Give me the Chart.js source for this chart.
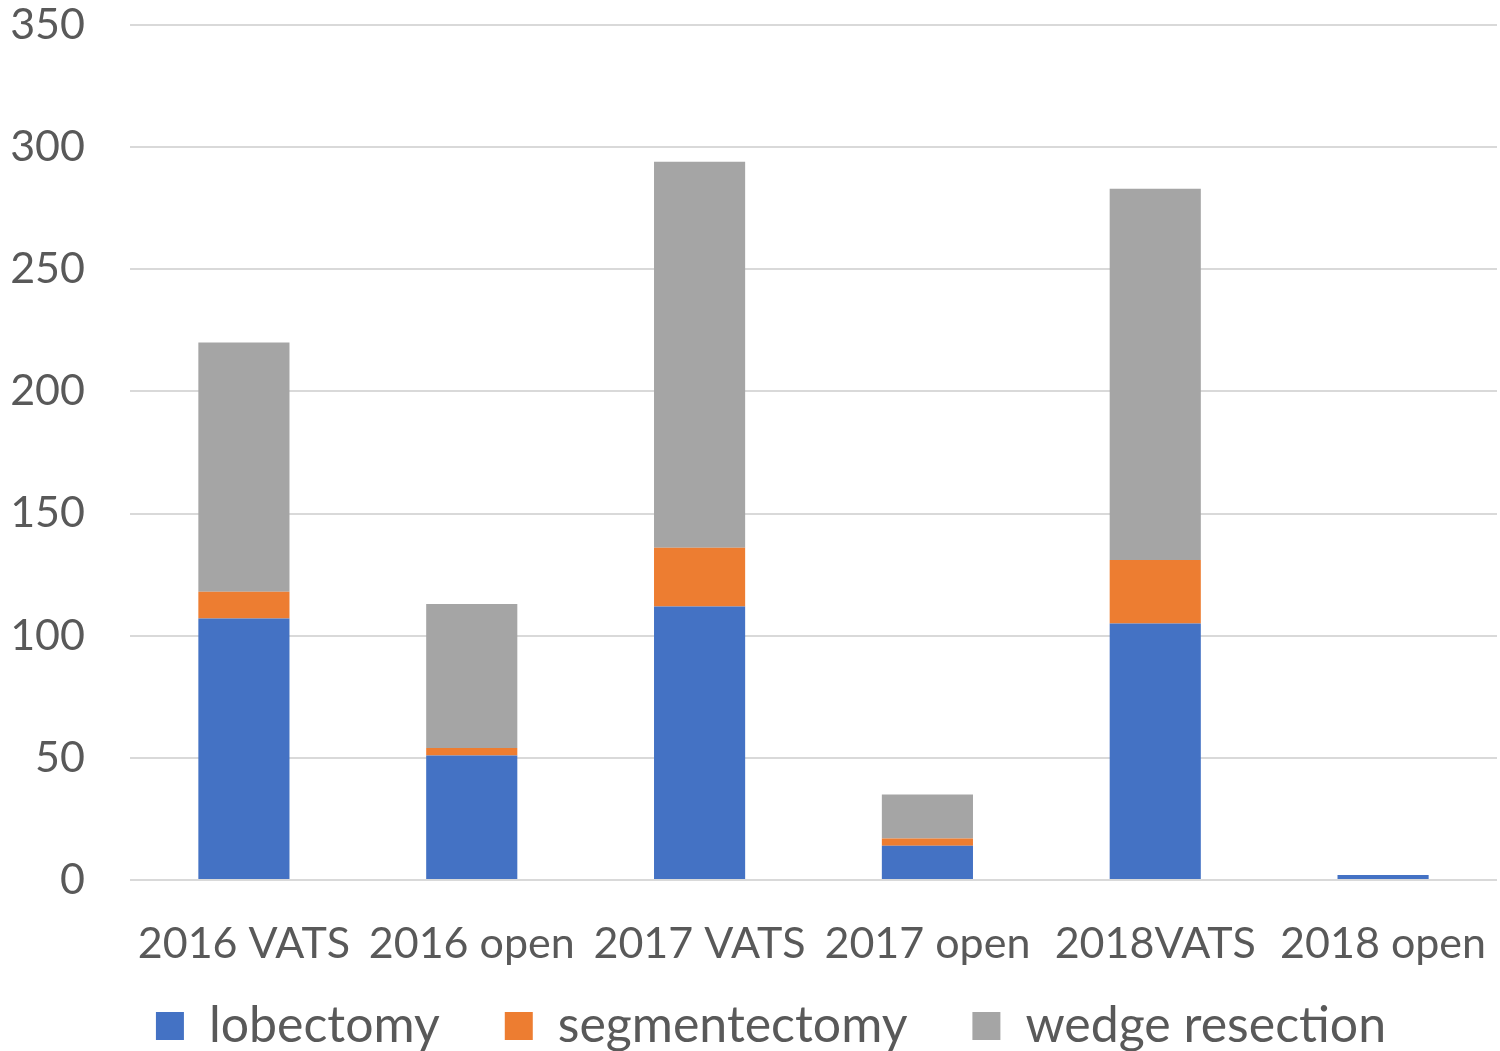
<!DOCTYPE html>
<html>
<head>
<meta charset="utf-8">
<script src="https://cdn.jsdelivr.net/npm/chart.js@4/dist/chart.umd.min.js"></script>
<style>
html,body{margin:0;padding:0;background:#fff;}
#wrap{width:1500px;height:1051px;}
</style>
</head>
<body>
<div id="wrap"><canvas id="c" width="1500" height="1051"></canvas></div>
<script>
const categories = ["2016 VATS", "2016 open", "2017 VATS", "2017 open", "2018VATS", "2018 open"];
const lobectomy = [107, 51, 112, 14, 105, 2];
const segmentectomy = [11, 3, 24, 3, 26, 0];
const wedgeResection = [102, 59, 158, 18, 152, 0];
const seriesNames = ["lobectomy", "segmentectomy", "wedge resection"];
const yTicks = [0, 50, 100, 150, 200, 250, 300, 350];

const FONT = "Lato";
const TXT = "#595959";

const ch = new Chart(document.getElementById("c"), {
  type: "bar",
  data: {
    labels: categories,
    datasets: [
      { label: seriesNames[0], data: lobectomy, backgroundColor: "#4472C4", borderWidth: 0 },
      { label: seriesNames[1], data: segmentectomy, backgroundColor: "#ED7D31", borderWidth: 0 },
      { label: seriesNames[2], data: wedgeResection, backgroundColor: "#A5A5A5", borderWidth: 0 }
    ]
  },
  options: {
    responsive: false,
    animation: false,
    devicePixelRatio: 1,
    layout: { padding: { left: 9, right: 3, top: 25, bottom: 0 } },
    datasets: { bar: { barPercentage: 1.0, categoryPercentage: 0.4 } },
    plugins: {
      tooltip: { enabled: false },
      legend: {
        position: "bottom",
        labels: {
          boxWidth: 28, boxHeight: 28, padding: 65,
          color: TXT,
          font: { family: FONT, size: 50 }
        }
      }
    },
    scales: {
      x: {
        stacked: true,
        grid: { display: false, drawTicks: false },
        border: { display: false },
        ticks: { color: TXT, font: { family: FONT, size: 43 }, padding: 38, maxRotation: 0, minRotation: 0, autoSkip: false },
        afterFit: (s) => { s.paddingLeft = 0; s.paddingRight = 0; s.height = 95; }
      },
      y: {
        stacked: true,
        min: 0, max: 350,
        afterBuildTicks: (axis) => { axis.ticks = yTicks.map(v => ({ value: v })); },
        grid: { color: "#D9D9D9", lineWidth: 2, drawTicks: false },
        border: { display: false },
        ticks: { color: TXT, font: { family: FONT, size: 43 }, padding: 45 },
        afterFit: (s) => { s.width = 121; s.paddingTop = 0; s.paddingBottom = 0; }
      }
    }
  }
});
const lg = ch.legend;
if (lg) {
  const origFit = lg.fit.bind(lg);
  lg.fit = function () { origFit(); this.height = 76; };
  const origDraw = lg.draw.bind(lg);
  lg.draw = function () {
    const t = this.top, l = this.left, r = this.right;
    this.top = t - 39; this.left = l + 18; this.right = r + 18;
    origDraw();
    this.top = t; this.left = l; this.right = r;
  };
  ch.update();
}
</script>
</body>
</html>
